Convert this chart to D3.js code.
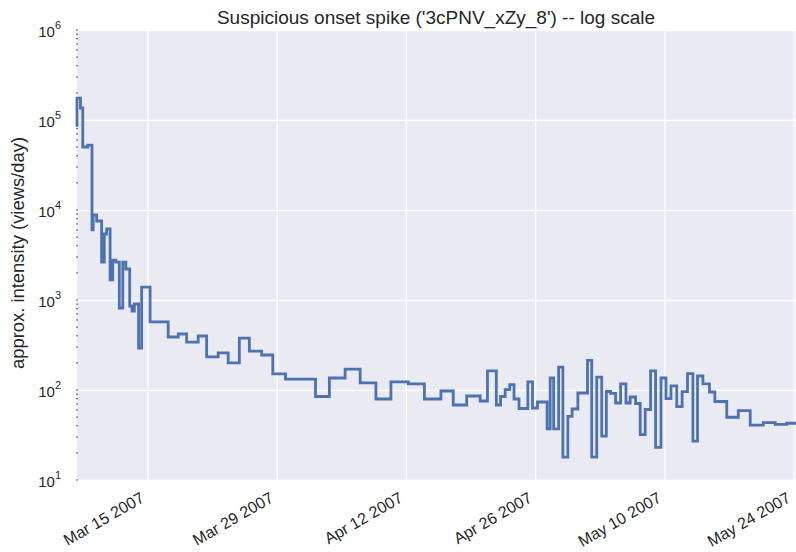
<!DOCTYPE html>
<html>
<head>
<meta charset="utf-8">
<script src="https://cdn.jsdelivr.net/npm/d3@7"></script>
<style>
  html, body { margin: 0; padding: 0; background: #ffffff; }
  svg { display: block; }
  text { font-family: "Liberation Sans", Arial, sans-serif; fill: #262626; }
</style>
</head>
<body>
<svg id="chart" width="796" height="552"></svg>
<script>
// ---- data (steps-pre: each value is the level ending at its time) ----
const times = [
  "2007-03-07 09:00","2007-03-07 18:00","2007-03-08 00:00","2007-03-08 13:00","2007-03-09 00:00",
  "2007-03-09 03:00","2007-03-09 12:00","2007-03-10 01:00","2007-03-10 08:00","2007-03-10 14:00",
  "2007-03-10 23:00","2007-03-11 06:00","2007-03-11 14:00","2007-03-11 23:00","2007-03-12 08:00",
  "2007-03-12 16:00","2007-03-13 02:00","2007-03-13 08:00","2007-03-13 14:00","2007-03-14 01:00",
  "2007-03-14 09:00","2007-03-15 07:00","2007-03-17 06:00","2007-03-18 08:00","2007-03-19 06:00",
  "2007-03-20 12:00","2007-03-21 10:00","2007-03-22 16:00","2007-03-23 18:00","2007-03-24 23:00",
  "2007-03-26 01:00","2007-03-27 09:00","2007-03-28 14:00","2007-03-29 23:00","2007-04-02 05:00",
  "2007-04-03 17:00","2007-04-05 10:00","2007-04-07 01:00","2007-04-08 18:00","2007-04-10 09:00",
  "2007-04-12 06:00","2007-04-14 00:00","2007-04-15 19:00","2007-04-17 03:00","2007-04-18 14:00",
  "2007-04-20 01:00","2007-04-20 20:00","2007-04-21 19:00","2007-04-22 06:00","2007-04-22 18:00",
  "2007-04-23 06:00","2007-04-23 17:00","2007-04-24 06:00","2007-04-25 05:00","2007-04-25 17:00",
  "2007-04-26 06:00","2007-04-27 07:00","2007-04-27 15:00","2007-04-28 00:00","2007-04-28 13:00",
  "2007-04-29 00:00","2007-04-29 13:00","2007-04-30 00:00","2007-04-30 15:00","2007-05-01 16:00",
  "2007-05-02 03:00","2007-05-02 16:00","2007-05-03 05:00","2007-05-03 17:00","2007-05-04 04:00",
  "2007-05-04 17:00","2007-05-05 06:00","2007-05-05 20:00","2007-05-06 07:00","2007-05-06 21:00",
  "2007-05-07 09:00","2007-05-07 22:00","2007-05-08 12:00","2007-05-09 01:00","2007-05-09 15:00",
  "2007-05-10 04:00","2007-05-10 17:00","2007-05-11 08:00","2007-05-11 22:00","2007-05-12 12:00",
  "2007-05-13 02:00","2007-05-13 14:00","2007-05-14 04:00","2007-05-14 21:00","2007-05-15 11:00",
  "2007-05-16 18:00","2007-05-18 00:00","2007-05-19 07:00","2007-05-20 17:00","2007-05-22 00:00",
  "2007-05-23 06:00","2007-05-24 06:00"
];
const intensity = [
  84000, 175000, 136000, 50100, 52700,
  6000, 8800, 7550, 2640, 5410,
  6150, 1670, 2780, 2640, 815,
  2640, 2210, 858, 755, 903,
  293, 1390, 570, 388, 419,
  341, 398, 233, 258, 200,
  378, 271, 245, 151, 132,
  84.7, 136, 171, 120, 79.4,
  123, 117, 79.4, 97.5, 68.1,
  85.8, 75.5, 163, 68.1, 84.7,
  101, 115, 79.4, 62.3, 123,
  63.1, 73.6, 36.9, 136, 36.9,
  180, 18.0, 50.8, 61.5, 92.6,
  213, 18.0, 139, 30.8, 96.2,
  91.9, 71.7, 117, 71.7, 83.6,
  70.8, 32.0, 60.7, 163, 23.0,
  136, 80.0, 111, 65.2, 95.7,
  152, 27.1, 143, 117, 95.0,
  74.5, 49.8, 58.9, 40.8, 43.3,
  41.6, 42.7
];
const xTickDates = ["2007-03-15","2007-03-29","2007-04-12","2007-04-26","2007-05-10","2007-05-24"];
const yTickExponents = [1, 2, 3, 4, 5, 6];
const titleText = "Suspicious onset spike ('3cPNV_xZy_8') -- log scale";
const yLabelText = "approx. intensity (views/day)";

// ---- layout ----
const W = 796, H = 552;
const plot = { left: 77, top: 30, right: 796, bottom: 480 };

const parseT = d3.utcParse("%Y-%m-%d %H:%M");
const parseD = d3.utcParse("%Y-%m-%d");
const data = times.map((t, i) => ({ t: parseT(t), v: intensity[i] }));
const xTicks = xTickDates.map(parseD);

const x = d3.scaleUtc().domain(d3.extent(data, d => d.t)).range([plot.left, plot.right]);
const y = d3.scaleLog().domain([10, 1e6]).range([plot.bottom, plot.top]);

const svg = d3.select("#chart");

// background
svg.append("rect")
  .attr("x", plot.left).attr("y", plot.top)
  .attr("width", plot.right - plot.left).attr("height", plot.bottom - plot.top)
  .attr("fill", "#EAEAF2");

// gridlines via axes
const yMajor = yTickExponents.map(e => Math.pow(10, e));
const gridY = svg.append("g")
  .attr("transform", `translate(${plot.left},0)`)
  .call(d3.axisLeft(y).tickValues(yMajor).tickSize(-(plot.right - plot.left)).tickFormat(""));
gridY.select(".domain").remove();
gridY.selectAll("line").attr("stroke", "#ffffff").attr("stroke-width", 1.3);

const gridX = svg.append("g")
  .attr("transform", `translate(0,${plot.bottom})`)
  .call(d3.axisBottom(x).tickValues(xTicks).tickSize(-(plot.bottom - plot.top)).tickFormat(""));
gridX.select(".domain").remove();
gridX.selectAll("line").attr("stroke", "#ffffff").attr("stroke-width", 1.3);

// minor (and major) tick dots on the log axis
const minorVals = [];
for (let e = 1; e < 6; e++) for (let m = 1; m <= 9; m++) minorVals.push(m * Math.pow(10, e));
minorVals.push(1e6);
svg.append("g").selectAll("line").data(minorVals).join("line")
  .attr("x1", plot.left - 1).attr("x2", plot.left + 1)
  .attr("y1", d => y(d)).attr("y2", d => y(d))
  .attr("stroke", "#555").attr("stroke-width", 1);

// the step line
const line = d3.line()
  .x(d => x(d.t))
  .y(d => y(d.v))
  .curve(d3.curveStepBefore);

svg.append("path")
  .datum(data)
  .attr("fill", "none")
  .attr("stroke", "#4C72B0")
  .attr("stroke-width", 2.8)
  .attr("stroke-linejoin", "miter")
  .attr("d", line);

// y tick labels 10^n
const yLab = svg.append("g");
yTickExponents.forEach(e => {
  const t = yLab.append("text")
    .attr("x", 61).attr("y", y(Math.pow(10, e)) + 6.5)
    .attr("text-anchor", "end")
    .style("font-size", "15px");
  t.append("tspan").text("10");
  t.append("tspan").attr("dy", -8).style("font-size", "11px").text(String(e));
});

// x tick labels
const fmt = d3.utcFormat("%b %d %Y");
svg.append("g").selectAll("text").data(xTicks).join("text")
  .attr("transform", d => `translate(${x(d) - 2},${plot.bottom + 21}) rotate(-30)`)
  .attr("text-anchor", "end")
  .style("font-size", "16px")
  .text(d => fmt(d));

// title
svg.append("text")
  .attr("x", (plot.left + 795) / 2).attr("y", 24)
  .attr("text-anchor", "middle")
  .style("font-size", "19px")
  .text(titleText);

// y label
svg.append("text")
  .attr("transform", `translate(24,${(plot.top + plot.bottom) / 2 - 2}) rotate(-90)`)
  .attr("text-anchor", "middle")
  .style("font-size", "18.4px")
  .text(yLabelText);
</script>
</body>
</html>
